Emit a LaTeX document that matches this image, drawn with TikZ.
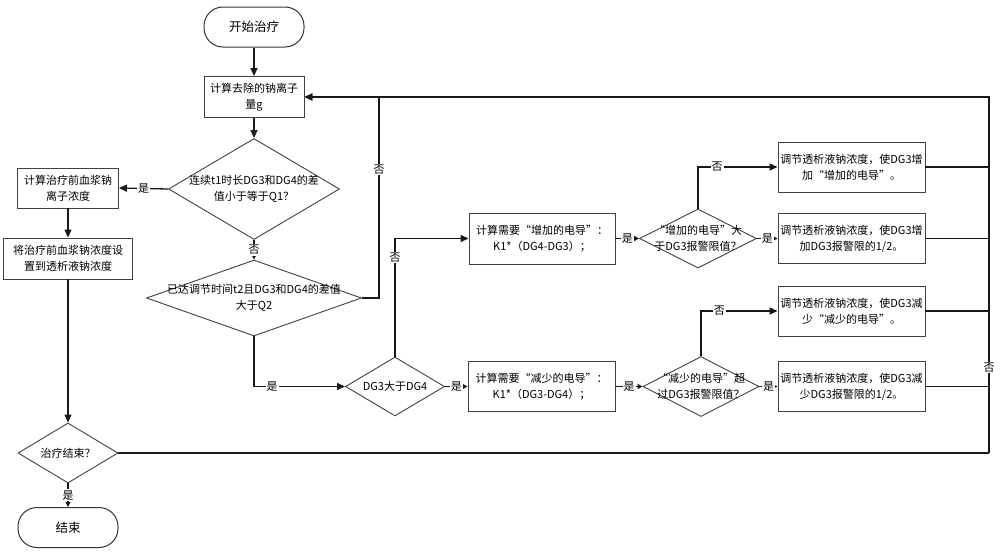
\documentclass[tikz,border=0pt]{standalone}
\usepackage{fontspec}
\setmainfont{Noto Sans CJK SC}
\usetikzlibrary{arrows.meta,shapes.geometric}
\begin{document}
\begin{tikzpicture}[x=1pt,y=-1pt,
  txt/.style={font=\fontsize{11}{16}\selectfont, align=center},
  box/.style={draw=black!75, line width=0.9pt, rectangle, inner sep=1pt, txt},
  term/.style={draw=black!80, line width=1pt, rectangle, rounded corners=19pt, minimum width=100pt, minimum height=40pt, font=\fontsize{12.5}{15}\selectfont},
  dia/.style={draw=black!75, line width=0.9pt, diamond, inner sep=0pt},
  dtext/.style={txt, inner sep=0pt},
  conn/.style={draw=black!90, line width=1.3pt},
  arr/.style={conn, -{Triangle[length=8pt,width=7pt]}},
  sarr/.style={conn, -{Triangle[length=5pt,width=5pt]}},
  lab/.style={fill=white, inner sep=1pt, font=\fontsize{11}{12}\selectfont},
]
\useasboundingbox (0,0) rectangle (1000,554);

% nodes
\node[term] (start) at (254,27) {开始治疗};
\node[box, minimum width=100pt, minimum height=41pt] (g) at (254,97) {计算去除的钠离子\\量g};
\node[dia, minimum width=171pt, minimum height=101pt] (d1) at (254,189) {};
\node[dtext] (d1t) at (d1.center) {连续t1时长DG3和DG4的差\\值小于等于Q1？};
\node[box, minimum width=101pt, minimum height=40pt] (b2) at (68,188) {计算治疗前血浆钠\\离子浓度};
\node[box, minimum width=129pt, minimum height=41pt] (b3) at (68,258.5) {将治疗前血浆钠浓度设\\置到透析液钠浓度};
\node[dia, minimum width=215pt, minimum height=76pt] (d2) at (254,298) {};
\node[dtext] (d2t) at (d2.center) {已达调节时间t2且DG3和DG4的差值\\大于Q2};
\node[dia, minimum width=99pt, minimum height=59pt] (d3) at (395,386.5) {};
\node[dtext] (d3t) at (d3.center) {DG3大于DG4};
\node[box, minimum width=146pt, minimum height=51pt] (binc) at (542,238.5) {计算需要“增加的电导”：\\K1*（DG4-DG3）；};
\node[box, minimum width=147pt, minimum height=50pt] (bdec) at (541.5,386.5) {计算需要“减少的电导”：\\K1*（DG3-DG4）；};
\node[dia, minimum width=117pt, minimum height=59pt] (dinc) at (698,238.5) {};
\node[dtext] (dinct) at (dinc.center) {“增加的电导”大\\于DG3报警限值？};
\node[dia, minimum width=116pt, minimum height=60pt] (ddec) at (701,386.5) {};
\node[dtext] (ddect) at (ddec.center) {“减少的电导”超\\过DG3报警限值？};
\node[box, minimum width=147pt, minimum height=50pt] (r1) at (851.5,167) {调节透析液钠浓度，使DG3增\\加“增加的电导”。};
\node[box, minimum width=147pt, minimum height=50pt] (r2) at (851.5,238.5) {调节透析液钠浓度，使DG3增\\加DG3报警限的1/2。};
\node[box, minimum width=147pt, minimum height=50pt] (r3) at (851.5,311) {调节透析液钠浓度，使DG3减\\少“减少的电导”。};
\node[box, minimum width=147pt, minimum height=50pt] (r4) at (851.5,386.5) {调节透析液钠浓度，使DG3减\\少DG3报警限的1/2。};
\node[dia, minimum width=100pt, minimum height=60pt] (dend) at (68,453) {};
\node[dtext] (dendt) at (dend.center) {治疗结束？};
\node[term] (endt) at (68,527.5) {结束};

\coordinate (nx) at (379,97);
\coordinate (rt) at (989,97);
\coordinate (rc) at (989,453);

% connectors
\draw[arr] (start) -- (g);
\draw[arr] (g) -- (d1);
\draw[arr] (d1.west) -- node[lab]{是} (b2.east);
\draw[arr] (b2) -- (b3);
\draw[sarr] (d1.south) -- node[lab]{否} (d2.north);
\draw[arr] (d2.east) -| node[lab,pos=0.82]{否} (nx) -- (g.east);
\draw[arr] (d2.south) |- node[lab,pos=0.6]{是} (d3.west);
\draw[arr] (d3.north) |- node[lab,pos=0.42]{否} (binc.west);
\draw[sarr] (d3.east) -- node[lab]{是} (bdec.west);
\draw[sarr] (binc.east) -- node[lab]{是} (dinc.west);
\draw[arr] (dinc.north) |- node[lab,pos=0.62]{否} (r1.west);
\draw[sarr] (dinc.east) -- node[lab]{是} (r2.west);
\draw[sarr] (bdec.east) -- node[lab]{是} (ddec.west);
\draw[arr] (ddec.north) |- node[lab,pos=0.62]{否} (r3.west);
\draw[sarr] (ddec.east) -- node[lab]{是} (r4.west);
\draw[conn] (r1.east) -- (r1.east -| rc);
\draw[conn] (r2.east) -- (r2.east -| rc);
\draw[conn] (r3.east) -- (r3.east -| rc);
\draw[conn] (r4.east) -- (r4.east -| rc);
\draw[arr] (b3) -- (dend);
\draw[conn] (dend.east) -- (rc);
\draw[arr, line width=1.8pt] (rc) -- node[lab,pos=0.24]{否} (rt) -- (g.east);
\draw[sarr] (dend.south) -- node[lab]{是} (endt.north);
\end{tikzpicture}
\end{document}
